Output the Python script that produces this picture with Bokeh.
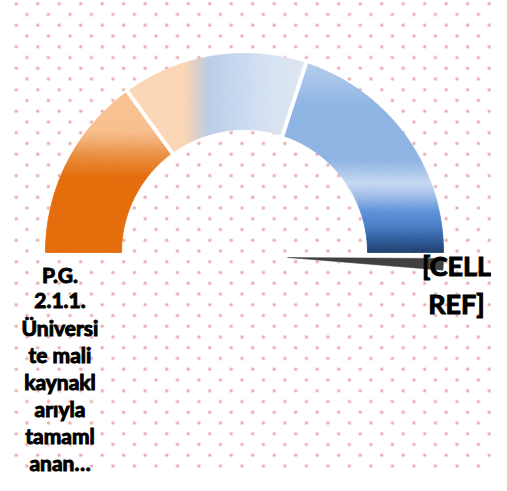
import numpy as np
from bokeh.plotting import figure
from bokeh.models import Range1d, ColumnDataSource
from bokeh.core.properties import value
from bokeh.embed import file_html
from bokeh.resources import INLINE

# ---------------- data ----------------
segment_names = ["Düşük", "Orta", "Yüksek"]
segment_values = [30, 30, 40]          # share of the half circle (%)
needle_value = 101.4                   # pointer position on the same % scale
needle_width = 2.4                     # pointer width (% of scale)
left_label_lines = ["P.G.", "2.1.1.", "Üniversi", "te mali", "kaynakl",
                    "arıyla", "tamaml", "anan…"]
right_label_lines = ["[CELL", "REF]"]

# ---------------- figure ----------------
W, H = 491, 475
p = figure(width=W, height=H, x_range=Range1d(0, W), y_range=Range1d(0, H),
           output_backend="svg", toolbar_location=None, min_border=0,
           x_axis_type=None, y_axis_type=None)
p.outline_line_color = None
p.background_fill_color = "white"
p.border_fill_color = "white"

# ---------------- dotted background pattern ----------------
dxs, dys = [], []
for n in range(46):
    sy = 3.3 + 10.75 * n
    x0 = 15.7 if n % 2 == 0 else 26.45
    for sx in np.arange(x0, W, 21.5):
        y = H - sy
        if 1 <= y <= H - 1:
            dxs.append(sx)
            dys.append(y)
p.scatter(dxs, dys, size=4.6, fill_color="#F8E2E3", line_color=None)
p.scatter(dxs, dys, size=2.6, fill_color="#E9AEB2", line_color=None)

# ---------------- gauge ----------------
cx, cy = 244, 223
R_out, R_in = 199, 123


def hex2rgb(h):
    h = h.lstrip("#")
    return np.array([int(h[i:i + 2], 16) for i in (0, 2, 4)], dtype=float)


def interp(stops, v):
    pos = [s[0] for s in stops]
    cols = [hex2rgb(s[1]) for s in stops]
    if v <= pos[0]:
        c = cols[0]
    elif v >= pos[-1]:
        c = cols[-1]
    else:
        for a in range(len(pos) - 1):
            if pos[a] <= v <= pos[a + 1]:
                t = (v - pos[a]) / (pos[a + 1] - pos[a])
                c = cols[a] * (1 - t) + cols[a + 1] * t
                break
    return "#%02x%02x%02x" % tuple(int(round(q)) for q in c)


# gradient styles (axis, stops in plot units)
grad = [
    ("y", [(298, "#E46C0A"), (318, "#EA8A3A"), (335, "#F2AE74"),
           (345, "#F8BF8E"), (381, "#F8C192")]),
    ("x", [(183, "#FBD6B6"), (197, "#D9CDCB"), (207, "#BBCDE5"),
           (235, "#C6D8EF"), (275, "#D8E3F1"), (300, "#DCE6F1")]),
    ("y", [(223, "#1F3F6E"), (235, "#2E5A96"), (250, "#4A7FC8"),
           (265, "#5F93D8"), (280, "#A0BEE8"), (293, "#C6D9F1"),
           (315, "#8EB4E3"), (370, "#8EB4E3"), (410, "#B3CCEC")]),
]

total = float(sum(segment_values))
edges = np.concatenate([[0], np.cumsum(segment_values)]) / total
angles = np.pi * (1 - edges)

sa, ea, ri, ro, cols = [], [], [], [], []
for i in range(len(segment_values)):
    a0, a1 = angles[i + 1], angles[i]
    n_a = int(np.ceil(np.degrees(a1 - a0) / 0.8))
    n_r = 16
    ta = np.linspace(a0, a1, n_a + 1)
    rr = np.linspace(R_in, R_out, n_r + 1)
    mode, stops = grad[i]
    for j in range(n_a):
        tm = 0.5 * (ta[j] + ta[j + 1])
        for k in range(n_r):
            rm = 0.5 * (rr[k] + rr[k + 1])
            v = cx + rm * np.cos(tm) if mode == "x" else cy + rm * np.sin(tm)
            sa.append(ta[j]); ea.append(ta[j + 1])
            ri.append(rr[k]); ro.append(rr[k + 1])
            cols.append(interp(stops, v))

src = ColumnDataSource(dict(sa=sa, ea=ea, ri=ri, ro=ro, c=cols))
p.annular_wedge(x=cx, y=cy, inner_radius="ri", outer_radius="ro",
                start_angle="sa", end_angle="ea", fill_color="c",
                line_color="c", line_width=0.8, source=src)

# white separators between slices
b = angles[1:-1]
p.segment(x0=cx + (R_in - 3) * np.cos(b), y0=cy + (R_in - 3) * np.sin(b),
          x1=cx + (R_out + 3) * np.cos(b), y1=cy + (R_out + 3) * np.sin(b),
          line_color="white", line_width=4)

# ---------------- needle ----------------
n_mid = np.pi * (1 - needle_value / 100.0)
half = np.pi * needle_width / 200.0
p.wedge(x=[287], y=[218], radius=156, start_angle=[n_mid - half],
        end_angle=[n_mid + half], fill_color="#404040", line_color="#404040",
        line_width=0.5)

# ---------------- labels ----------------
ly = [201.5 - 26.9 * i for i in range(len(left_label_lines))]
p.text(x=[59.5] * len(left_label_lines), y=ly, text=left_label_lines,
       text_font=value("Lato"), text_font_style="bold", text_font_size="21px",
       text_align="center", text_baseline="alphabetic", text_color="#000000",
       text_outline_color="#000000")

ry = [210 - 38 * i for i in range(len(right_label_lines))]
p.text(x=[456] * len(right_label_lines), y=ry, text=right_label_lines,
       text_font=value("Lato"), text_font_style="bold", text_font_size="27px",
       text_align="center", text_baseline="alphabetic", text_color="#000000",
       text_outline_color="#000000")

open("out.html", "w").write(file_html(p, INLINE))
